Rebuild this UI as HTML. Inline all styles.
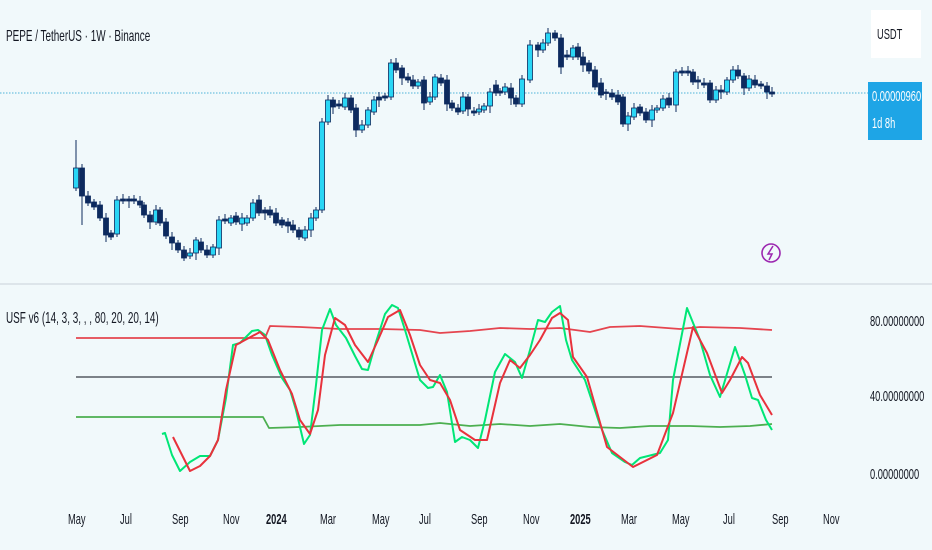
<!DOCTYPE html>
<html><head><meta charset="utf-8"><style>
html,body{margin:0;padding:0;background:#f1f9fb;}
body{width:932px;height:550px;position:relative;overflow:hidden;font-family:"Liberation Sans",sans-serif;}
.t{position:absolute;white-space:nowrap;transform:scaleX(0.62);transform-origin:left top;color:#131722;font-size:15px;}
</style></head><body>
<svg width="932" height="550" style="position:absolute;left:0;top:0" id="s">
<line x1="0" y1="93" x2="868" y2="93" stroke="#4fb3d9" stroke-width="1" stroke-dasharray="1.5,1.5"/>
<line x1="0" y1="284" x2="932" y2="284" stroke="#dde5ea" stroke-width="2"/>
<g id="candles"></g>
<g fill="none" stroke-linejoin="round">
<polyline stroke="#e5454f" stroke-width="1.8" points="76,338 265,338 270,326 300,327 340,329 380,329 420,330 440,333 470,331 500,328 530,329 560,328 590,332 610,327 640,326 680,329 700,327 740,328 772,330"/>
<line x1="76" y1="377" x2="772" y2="377" stroke="#6b7077" stroke-width="1.8"/>
<polyline stroke="#4caf50" stroke-width="1.8" points="76,417 263,417 269,428 300,427 340,425 380,425 420,425 440,423 470,426 500,424 530,426 560,424 590,427 620,428 650,426 690,426 720,427 750,426 772,424"/>
<polyline stroke="#00e676" stroke-width="2" points="162,434 165,433 172,455 180,471 190,462 200,456 210,456 218,440 226,398 233,345 240,343 248,335 252,331 258,330 265,335 272,355 282,378 290,390 296,410 304,444 310,435 316,385 322,330 330,309 336,325 346,338 355,356 362,369 368,370 376,342 385,314 392,305 398,308 405,330 414,360 420,380 428,388 433,387 440,375 447,392 455,442 462,437 470,440 478,448 485,420 495,372 505,354 515,362 522,378 530,350 538,320 545,322 552,312 560,306 566,340 572,360 585,380 600,425 612,453 625,462 632,465 640,458 660,453 668,440 673,380 687,308 700,340 710,375 720,397 735,347 745,375 752,398 758,400 766,420 772,430"/>
<polyline stroke="#e8323c" stroke-width="2" points="173,437 190,471 200,466 210,456 218,440 226,390 236,345 245,340 260,332 268,340 280,370 292,394 300,420 310,434 318,410 325,355 335,318 345,325 355,345 368,362 378,340 388,317 400,310 410,335 420,365 430,380 440,383 450,400 460,430 475,440 487,440 500,383 510,360 520,368 530,355 540,340 552,318 560,313 568,320 573,357 587,377 607,447 633,467 657,455 673,413 693,327 707,353 722,393 730,380 742,357 748,363 760,395 772,415"/>
</g>
<circle cx="771" cy="253" r="9" fill="none" stroke="#9c27b0" stroke-width="1.6"/>
<path d="M773,246 L768,254 L772,254 L769,260" fill="none" stroke="#9c27b0" stroke-width="1.5"/>
<rect x="871" y="10" width="50" height="48" fill="#fff"/>
<rect x="868" y="82" width="54" height="58" fill="#1ea5e6"/>
</svg>
<div class="t" style="left:6px;top:28px;font-size:16px;">PEPE / TetherUS · 1W · Binance</div>
<div class="t" style="left:877px;top:26px;">USDT</div>
<div class="t" style="left:872px;top:88px;color:#fff;">0.00000960</div>
<div class="t" style="left:872px;top:115px;color:#fff;">1d 8h</div>
<div class="t" style="left:6px;top:310px;font-size:16px;">USF v6 (14, 3, 3, , , 80, 20, 20, 14)</div>
<div class="t" style="left:870px;top:313px;">80.00000000</div>
<div class="t" style="left:870px;top:388px;">40.00000000</div>
<div class="t" style="left:870px;top:466px;">0.00000000</div>
<div id="ax"></div>
<script>
var c=[[76,168,188,1],[82,168,196,0],[88,196,203,0],[94,202,207,0],[100,205,218,0],[106,218,235,0],[111,233,237,0],[117,200,234,1],[123,199,201,0],[129,199,201,0],[134,199,201,0],[140,201,205,0],[144,205,215,0],[150,215,222,0],[156,210,222,1],[160,210,223,0],[166,222,236,0],[172,237,243,0],[178,243,250,0],[184,250,258,0],[190,253,256,1],[196,240,253,1],[201,242,250,0],[207,250,255,0],[213,247,255,1],[219,220,248,1],[225,219,221,0],[231,218,223,1],[236,216,222,0],[242,218,224,1],[247,218,223,1],[253,203,218,1],[259,200,213,0],[265,210,213,0],[270,210,215,0],[276,213,223,0],[282,220,225,0],[288,222,226,0],[293,225,230,0],[299,230,237,0],[305,230,238,1],[311,218,230,1],[316,210,218,1],[322,122,210,1],[328,100,122,1],[333,100,107,0],[339,104,106,0],[345,98,107,1],[351,98,110,0],[356,108,130,0],[362,125,130,1],[368,110,125,1],[374,100,112,1],[379,97,100,0],[385,96,98,0],[391,63,97,1],[396,63,70,0],[402,68,78,0],[408,77,80,0],[413,80,86,0],[418,82,86,1],[424,80,103,0],[430,97,102,1],[435,77,97,1],[441,78,83,0],[447,80,104,0],[452,103,108,0],[458,108,112,0],[463,97,111,1],[468,97,109,0],[474,111,113,0],[479,109,112,1],[484,106,110,1],[490,92,106,1],[496,85,93,0],[500,91,93,0],[505,87,92,1],[511,88,98,0],[516,98,104,0],[522,79,104,1],[530,45,80,1],[538,45,50,0],[543,43,50,1],[548,33,43,1],[555,33,38,0],[561,38,67,0],[567,55,57,0],[573,48,57,1],[578,47,57,0],[583,57,65,0],[589,63,71,0],[595,70,87,0],[601,83,95,0],[606,92,93,0],[612,93,97,0],[618,95,102,0],[623,97,124,0],[628,116,124,1],[634,108,117,1],[640,107,113,0],[646,112,120,0],[652,110,120,1],[657,108,110,1],[663,99,108,1],[669,98,105,0],[676,72,105,1],[682,71,73,0],[688,71,73,0],[693,72,82,0],[698,80,82,0],[704,83,85,0],[710,83,100,0],[716,90,100,1],[721,90,92,0],[727,80,92,1],[733,70,80,1],[738,70,76,0],[744,76,88,0],[749,79,88,1],[755,80,85,0],[761,84,86,0],[767,86,92,0],[772,92,94,0]];
var h='';c.forEach(function(d,i){var x=d[0],t=d[1],b=d[2];var wt=t-3-(i%3),wb=b+3+(i%4==1?4:0);
if(i==0)wt=140;if(i==1)wb=225;
h+='<line x1="'+x+'" y1="'+wt+'" x2="'+x+'" y2="'+wb+'" stroke="#0d2a5e" stroke-width="1"/>';
h+='<rect x="'+(x-2.5)+'" y="'+t+'" width="5" height="'+Math.max(b-t,1.5)+'" fill="'+(d[3]?'#2ad6f5':'#0d2a5e')+'" stroke="#0d2a5e" stroke-width="0.8"/>';});
document.getElementById('candles').innerHTML=h;
var a=[[75,'May'],[127,'Jul'],[179,'Sep'],[230,'Nov'],[273,'2024',1],[327,'Mar'],[379,'May'],[426,'Jul'],[478,'Sep'],[530,'Nov'],[577,'2025',1],[628,'Mar'],[679,'May'],[730,'Jul'],[779,'Sep'],[830,'Nov']];
var s='';a.forEach(function(d){s+='<div class="t" style="left:'+(d[0]-7)+'px;top:511px;'+(d[2]?'font-weight:bold;':'')+'">'+d[1]+'</div>';});
document.getElementById('ax').innerHTML=s;
</script>
</body></html>
